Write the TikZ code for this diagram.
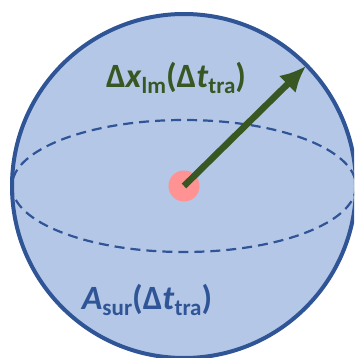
\documentclass[tikz,border=0pt]{standalone}
\usepackage{fontspec}
\setmainfont{Carlito}
\usetikzlibrary{arrows.meta}
\definecolor{sphereblue}{HTML}{B4C7E7}
\definecolor{edgeblue}{HTML}{2F5597}
\definecolor{arrowgreen}{HTML}{385723}
\definecolor{dotpink}{HTML}{FF9393}
\newcommand{\sbs}[1]{\raisebox{-0.35ex}{\fontsize{23}{23}\selectfont #1}}

\begin{document}
\begin{tikzpicture}[x=1pt, y=-1pt, every node/.style={font=\fontsize{34}{34}\selectfont\bfseries}, >={Latex[length=26pt, width=24pt]}]
	\useasboundingbox (0,0) rectangle (354,358);
	\clip (0,0) rectangle (354,358);
	\filldraw[fill=sphereblue, draw=edgeblue, line width=4pt] (184,186) circle (172);
	\draw[edgeblue, line width=2.2pt, dash pattern=on 10pt off 6pt] (184,186) ellipse (172 and 66);
	\node[circle, fill=dotpink, minimum size=31pt, inner sep=0pt] (dot) at (184,186) {};
	\coordinate (tip) at (306,66);
	\draw[->, arrowgreen, line width=6.5pt] (dot.center) -- (tip);
	\node[arrowgreen] (dx) at (176,78) {Δ\textit{x}\sbs{lm}(Δ\textit{t}\sbs{tra})};
	\node[edgeblue] (area) at (147,300) {\textit{A}\sbs{sur}(Δ\textit{t}\sbs{tra})};
\end{tikzpicture}
\end{document}
